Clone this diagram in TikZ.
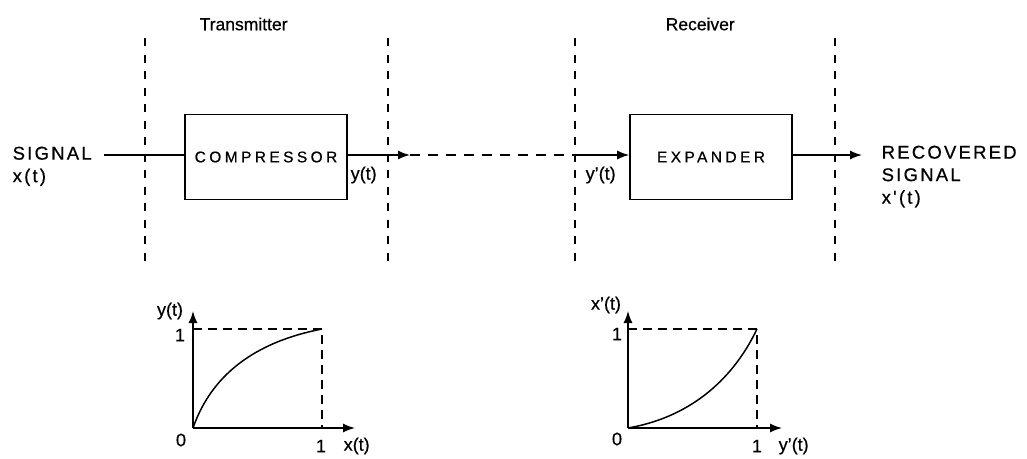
\documentclass[tikz,border=0pt]{standalone}
\usepackage{fontspec}
\setmainfont[FakeBold=0.6]{Liberation Sans}
\newfontfamily\spA[LetterSpace=12,FakeBold=0.6]{Liberation Sans}
\newfontfamily\spB[LetterSpace=22,FakeBold=0.6]{Liberation Sans}
\usetikzlibrary{arrows.meta}
\begin{document}
\begin{tikzpicture}[x=1pt,y=-1pt,
  line width=1.4pt,
  title/.style={font=\fontsize{17.5}{20}\selectfont, inner sep=0pt},
  lbl/.style={font=\fontsize{18}{20}\selectfont, inner sep=0pt},
  caps/.style={font=\fontsize{18.5}{22.5}\selectfont\spA, inner sep=0pt, align=left},
  blk/.style={draw, line width=1.6pt, minimum width=162pt, minimum height=85pt, inner sep=0pt, font=\fontsize{15.5}{18}\selectfont\spB},
  divider/.style={dash pattern=on 8pt off 8.5pt, line width=1.5pt},
  dline/.style={dash pattern=on 10pt off 8pt, line width=1.4pt},
  graphdash/.style={dash pattern=on 9pt off 6pt, line width=1.3pt},
  arr/.style={-{Latex[length=12pt,width=9pt]}},
  curve/.style={line width=1.5pt}
]
\useasboundingbox (0,0) rectangle (1027,458);

% dividers
\coordinate (d1t) at (145,38); \coordinate (d1b) at (145,266);
\coordinate (d2t) at (388,38); \coordinate (d2b) at (388,266);
\coordinate (d3t) at (575,38); \coordinate (d3b) at (575,266);
\coordinate (d4t) at (835,38); \coordinate (d4b) at (835,266);
\draw[divider] (d1t) -- (d1b);
\draw[divider] (d2t) -- (d2b);
\draw[divider] (d3t) -- (d3b);
\draw[divider] (d4t) -- (d4b);

% titles
\node[title, anchor=west] (tx) at (199,24) {Transmitter};
\node[title, anchor=west] (rx) at (665,24) {Receiver};

% blocks
\node[blk] (comp) at (266,157) {COMPRESSOR};
\node[blk] (exp) at (711,157) {EXPANDER};

% input
\node[caps, anchor=north west] (sig) at (12,146) {SIGNAL\\x(t)};
\coordinate (sigend) at (104,155);
\draw (sigend) -- (comp.west |- sigend);

% output of compressor
\coordinate (txend) at (410,155);
\coordinate (rxstart) at (575,155);
\draw[arr] (comp.east |- txend) -- (txend);
\draw[dline] (txend) -- (rxstart);
\draw[arr] (rxstart) -- (exp.west |- rxstart);
\coordinate (outend) at (862,155);
\draw[arr] (exp.east |- outend) -- (outend);

\node[lbl, anchor=west] (yt) at (350,175) {y(t)};
\node[lbl, anchor=west] (ypt) at (585,175) {y'(t)};
\node[caps, anchor=north west] (rec) at (881,145) {RECOVERED\\SIGNAL\\x'(t)};

% graph 1
\coordinate (o1) at (193,428);
\coordinate (y1) at (193,311);
\coordinate (x1) at (355,428);
\coordinate (p1) at (322,329);
\draw[arr] (o1) -- (y1);
\draw[arr] (o1) -- (x1);
\draw[graphdash] (o1 |- p1) -- (p1) -- (p1 |- o1);
\draw[curve] (o1) .. controls (208.5,383.5) and (244.6,344) .. (p1);
\node[lbl] (g1y) at (170,311) {y(t)};
\node[lbl] (g1one) at (180,335) {1};
\node[lbl] (g1zero) at (181,440) {0};
\node[lbl] (g1xone) at (321,446) {1};
\node[lbl, anchor=west] (g1x) at (343,446) {x(t)};

% graph 2
\coordinate (o2) at (628,428);
\coordinate (y2) at (628,311);
\coordinate (x2) at (782,428);
\coordinate (p2) at (757,329);
\draw[arr] (o2) -- (y2);
\draw[arr] (o2) -- (x2);
\draw[graphdash] (o2 |- p2) -- (p2) -- (p2 |- o2);
\draw[curve] (o2) .. controls (686,418) and (731,383.5) .. (p2);
\node[lbl] (g2y) at (606,305) {x'(t)};
\node[lbl] (g2one) at (617,334) {1};
\node[lbl] (g2zero) at (617,439) {0};
\node[lbl] (g2xone) at (757,446) {1};
\node[lbl, anchor=west] (g2x) at (778,446) {y'(t)};
\end{tikzpicture}
\end{document}
